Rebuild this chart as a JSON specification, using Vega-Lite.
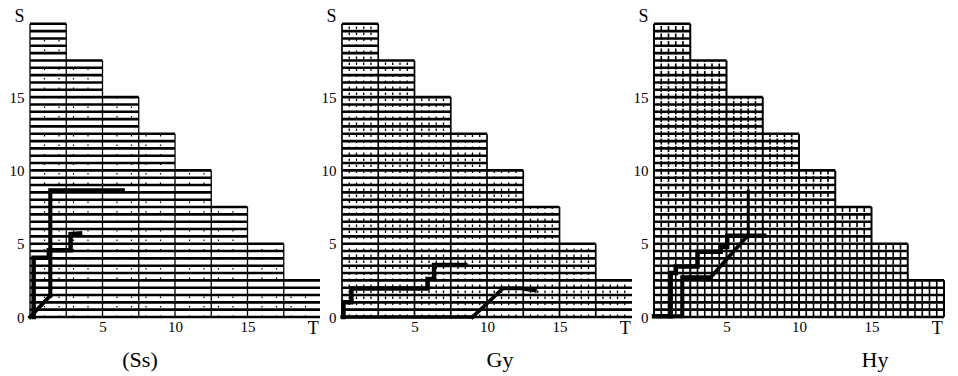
{
  "$schema": "https://vega.github.io/schema/vega-lite/v6.json",
  "background": "white",
  "padding": {"left": 9, "top": 7, "right": 5, "bottom": 2},
  "spacing": 22,
  "bounds": "flush",
  "config": {
    "view": {"stroke": null},
    "axis": {"labelFont": "Liberation Serif", "labelColor": "black", "domain": false, "ticks": false, "grid": false, "labelOverlap": false, "labelBound": false, "labelFlush": false},
    "title": {"font": "Liberation Serif", "fontSize": 22, "fontWeight": "normal", "color": "black"}
  },
  "datasets": {
    "h": [
      {"s": 0, "t": 0, "te": 20}, {"s": 0.5, "t": 0, "te": 20}, {"s": 1, "t": 0, "te": 20}, {"s": 1.5, "t": 0, "te": 20}, {"s": 2, "t": 0, "te": 20}, {"s": 2.5, "t": 0, "te": 20},
      {"s": 3, "t": 0, "te": 17.5}, {"s": 3.5, "t": 0, "te": 17.5}, {"s": 4, "t": 0, "te": 17.5}, {"s": 4.5, "t": 0, "te": 17.5}, {"s": 5, "t": 0, "te": 17.5},
      {"s": 5.5, "t": 0, "te": 15}, {"s": 6, "t": 0, "te": 15}, {"s": 6.5, "t": 0, "te": 15}, {"s": 7, "t": 0, "te": 15}, {"s": 7.5, "t": 0, "te": 15},
      {"s": 8, "t": 0, "te": 12.5}, {"s": 8.5, "t": 0, "te": 12.5}, {"s": 9, "t": 0, "te": 12.5}, {"s": 9.5, "t": 0, "te": 12.5}, {"s": 10, "t": 0, "te": 12.5},
      {"s": 10.5, "t": 0, "te": 10}, {"s": 11, "t": 0, "te": 10}, {"s": 11.5, "t": 0, "te": 10}, {"s": 12, "t": 0, "te": 10}, {"s": 12.5, "t": 0, "te": 10},
      {"s": 13, "t": 0, "te": 7.5}, {"s": 13.5, "t": 0, "te": 7.5}, {"s": 14, "t": 0, "te": 7.5}, {"s": 14.5, "t": 0, "te": 7.5}, {"s": 15, "t": 0, "te": 7.5},
      {"s": 15.5, "t": 0, "te": 5}, {"s": 16, "t": 0, "te": 5}, {"s": 16.5, "t": 0, "te": 5}, {"s": 17, "t": 0, "te": 5}, {"s": 17.5, "t": 0, "te": 5},
      {"s": 18, "t": 0, "te": 2.5}, {"s": 18.5, "t": 0, "te": 2.5}, {"s": 19, "t": 0, "te": 2.5}, {"s": 19.5, "t": 0, "te": 2.5}, {"s": 20, "t": 0, "te": 2.5}
    ],
    "vb": [
      {"t": 0, "s": 0, "top": 20}, {"t": 2.5, "s": 0, "top": 20}, {"t": 5, "s": 0, "top": 17.5}, {"t": 7.5, "s": 0, "top": 15}, {"t": 10, "s": 0, "top": 12.5},
      {"t": 12.5, "s": 0, "top": 10}, {"t": 15, "s": 0, "top": 7.5}, {"t": 17.5, "s": 0, "top": 5}, {"t": 20, "s": 0, "top": 2.5}
    ],
    "vg": [
      {"t": 0.5, "s": 0, "top": 20}, {"t": 1, "s": 0, "top": 20}, {"t": 1.5, "s": 0, "top": 20}, {"t": 2, "s": 0, "top": 20},
      {"t": 3, "s": 0, "top": 17.5}, {"t": 3.5, "s": 0, "top": 17.5}, {"t": 4, "s": 0, "top": 17.5}, {"t": 4.5, "s": 0, "top": 17.5},
      {"t": 5.5, "s": 0, "top": 15}, {"t": 6, "s": 0, "top": 15}, {"t": 6.5, "s": 0, "top": 15}, {"t": 7, "s": 0, "top": 15},
      {"t": 8, "s": 0, "top": 12.5}, {"t": 8.5, "s": 0, "top": 12.5}, {"t": 9, "s": 0, "top": 12.5}, {"t": 9.5, "s": 0, "top": 12.5},
      {"t": 10.5, "s": 0, "top": 10}, {"t": 11, "s": 0, "top": 10}, {"t": 11.5, "s": 0, "top": 10}, {"t": 12, "s": 0, "top": 10},
      {"t": 13, "s": 0, "top": 7.5}, {"t": 13.5, "s": 0, "top": 7.5}, {"t": 14, "s": 0, "top": 7.5}, {"t": 14.5, "s": 0, "top": 7.5},
      {"t": 15.5, "s": 0, "top": 5}, {"t": 16, "s": 0, "top": 5}, {"t": 16.5, "s": 0, "top": 5}, {"t": 17, "s": 0, "top": 5},
      {"t": 18, "s": 0, "top": 2.5}, {"t": 18.5, "s": 0, "top": 2.5}, {"t": 19, "s": 0, "top": 2.5}, {"t": 19.5, "s": 0, "top": 2.5}
    ],
    "p1": [
      {"path": "a", "i": 1, "t": 0.25, "s": 0}, {"path": "a", "i": 2, "t": 0.25, "s": 4.05}, {"path": "a", "i": 3, "t": 1.3, "s": 4.05},
      {"path": "a", "i": 4, "t": 1.3, "s": 4.55}, {"path": "a", "i": 5, "t": 2.8, "s": 4.55}, {"path": "a", "i": 6, "t": 2.8, "s": 5.65},
      {"path": "a", "i": 7, "t": 3.45, "s": 5.7},
      {"path": "b", "i": 1, "t": 1.4, "s": 1.45}, {"path": "b", "i": 2, "t": 1.4, "s": 8.65}, {"path": "b", "i": 3, "t": 6.4, "s": 8.65},
      {"path": "c", "i": 1, "t": 0, "s": 0}, {"path": "c", "i": 2, "t": 1.4, "s": 1.45}
    ],
    "p2": [
      {"path": "a", "i": 1, "t": 0.1, "s": 0}, {"path": "a", "i": 2, "t": 0.1, "s": 1.0}, {"path": "a", "i": 3, "t": 0.65, "s": 1.0},
      {"path": "a", "i": 4, "t": 0.65, "s": 1.95}, {"path": "a", "i": 5, "t": 5.9, "s": 1.95}, {"path": "a", "i": 6, "t": 5.9, "s": 2.6},
      {"path": "a", "i": 7, "t": 6.35, "s": 2.6}, {"path": "a", "i": 8, "t": 6.35, "s": 3.55}, {"path": "a", "i": 9, "t": 8.5, "s": 3.55},
      {"path": "d", "i": 1, "t": 0, "s": 0}, {"path": "d", "i": 2, "t": 9.0, "s": 0},
      {"path": "c", "i": 1, "t": 9.0, "s": 0}, {"path": "c", "i": 2, "t": 11.1, "s": 1.95}, {"path": "c", "i": 3, "t": 12.3, "s": 1.95},
      {"path": "c", "i": 4, "t": 13.3, "s": 1.8}
    ],
    "p3": [
      {"path": "a", "i": 1, "t": 0, "s": 0.05}, {"path": "a", "i": 2, "t": 1.15, "s": 0.05}, {"path": "a", "i": 3, "t": 1.15, "s": 3.0},
      {"path": "a", "i": 4, "t": 1.5, "s": 3.0}, {"path": "a", "i": 5, "t": 1.5, "s": 3.45}, {"path": "a", "i": 6, "t": 3.0, "s": 3.45},
      {"path": "a", "i": 7, "t": 3.0, "s": 4.45}, {"path": "a", "i": 8, "t": 4.6, "s": 4.45}, {"path": "a", "i": 9, "t": 4.6, "s": 4.8},
      {"path": "a", "i": 10, "t": 5.05, "s": 4.8}, {"path": "a", "i": 11, "t": 5.05, "s": 5.55}, {"path": "a", "i": 12, "t": 7.6, "s": 5.55},
      {"path": "b", "i": 1, "t": 1.15, "s": 0.05}, {"path": "b", "i": 2, "t": 1.95, "s": 0.05}, {"path": "b", "i": 3, "t": 1.95, "s": 2.7},
      {"path": "b", "i": 4, "t": 3.9, "s": 2.7},
      {"path": "c", "i": 1, "t": 3.9, "s": 2.7}, {"path": "c", "i": 2, "t": 6.5, "s": 5.6},
      {"path": "e", "i": 1, "t": 6.5, "s": 5.6}, {"path": "e", "i": 2, "t": 6.5, "s": 8.6}
    ]
  },
  "hconcat": [
    {
      "width": 290, "height": 302,
      "title": {"text": "(Ss)", "orient": "bottom", "anchor": "middle", "dx": -35, "offset": 13},
      "encoding": {
        "x": {"field": "t", "type": "quantitative", "scale": {"domain": [0, 20], "nice": false, "zero": false},
              "axis": {"title": null, "values": [5, 10, 15, 19.5], "labelExpr": "datum.value > 19 ? 'T' : datum.label", "labelPadding": 2,
                       "labelFontSize": {"condition": {"test": "datum.value > 19", "value": 18}, "value": 15}}},
        "y": {"field": "s", "type": "quantitative", "scale": {"domain": [0, 20.6], "nice": false, "zero": false},
              "axis": {"title": null, "values": [0, 5, 10, 15, 20.5], "labelExpr": "datum.value > 20 ? 'S' : datum.label", "labelPadding": 6,
                       "labelFontSize": {"condition": {"test": "datum.value > 20", "value": 18}, "value": 15}}}
      },
      "layer": [
        {"data": {"name": "h"}, "mark": {"type": "rule", "color": "black", "strokeWidth": 2.6}, "encoding": {"x2": {"field": "te"}}},
        {"data": {"name": "vb"}, "transform": [{"filter": "datum.t < 20"}], "mark": {"type": "rule", "color": "black", "strokeWidth": 1.3}, "encoding": {"y2": {"field": "top"}}},
        {"data": {"name": "vg"}, "transform": [{"filter": "datum.t % 1 == 0"}], "mark": {"type": "rule", "color": "black", "strokeWidth": 1.2, "strokeDash": [1.5, 8]}, "encoding": {"y2": {"field": "top"}}},
        {
          "data": {"name": "p1"},
          "mark": {"type": "line", "color": "black", "strokeJoin": "miter", "strokeCap": "square"},
          "encoding": {
            "detail": {"field": "path", "type": "nominal"},
            "order": {"field": "i", "type": "quantitative"},
            "strokeWidth": {"field": "path", "type": "nominal", "scale": {"domain": ["a", "b", "c", "d", "e"], "range": [4.5, 3, 1.5, 3.5, 3]}, "legend": null}
          }
        }
      ]
    },
    {
      "width": 290, "height": 302,
      "title": {"text": "Gy", "orient": "bottom", "anchor": "middle", "dx": 13, "offset": 13},
      "encoding": {
        "x": {"field": "t", "type": "quantitative", "scale": {"domain": [0, 20], "nice": false, "zero": false},
              "axis": {"title": null, "values": [5, 10, 15, 19.5], "labelExpr": "datum.value > 19 ? 'T' : datum.label", "labelPadding": 2,
                       "labelFontSize": {"condition": {"test": "datum.value > 19", "value": 18}, "value": 15}}},
        "y": {"field": "s", "type": "quantitative", "scale": {"domain": [0, 20.6], "nice": false, "zero": false},
              "axis": {"title": null, "values": [0, 5, 10, 15, 20.5], "labelExpr": "datum.value > 20 ? 'S' : datum.label", "labelPadding": 6,
                       "labelFontSize": {"condition": {"test": "datum.value > 20", "value": 18}, "value": 15}}}
      },
      "layer": [
        {"data": {"name": "h"}, "mark": {"type": "rule", "color": "black", "strokeWidth": 2.6}, "encoding": {"x2": {"field": "te"}}},
        {"data": {"name": "vb"}, "transform": [{"filter": "datum.t < 20"}], "mark": {"type": "rule", "color": "black", "strokeWidth": 1.7}, "encoding": {"y2": {"field": "top"}}},
        {"data": {"name": "vg"}, "mark": {"type": "rule", "color": "black", "strokeWidth": 1.3, "strokeDash": [2.5, 3.5]}, "encoding": {"y2": {"field": "top"}}},
        {
          "data": {"name": "p2"},
          "mark": {"type": "line", "color": "black", "strokeJoin": "miter", "strokeCap": "square"},
          "encoding": {
            "detail": {"field": "path", "type": "nominal"},
            "order": {"field": "i", "type": "quantitative"},
            "strokeWidth": {"field": "path", "type": "nominal", "scale": {"domain": ["a", "b", "c", "d", "e"], "range": [4.5, 3, 1.5, 3.5, 3]}, "legend": null}
          }
        }
      ]
    },
    {
      "width": 290, "height": 302,
      "title": {"text": "Hy", "orient": "bottom", "anchor": "middle", "dx": 76, "offset": 13},
      "encoding": {
        "x": {"field": "t", "type": "quantitative", "scale": {"domain": [0, 20], "nice": false, "zero": false},
              "axis": {"title": null, "values": [5, 10, 15, 19.5], "labelExpr": "datum.value > 19 ? 'T' : datum.label", "labelPadding": 2,
                       "labelFontSize": {"condition": {"test": "datum.value > 19", "value": 18}, "value": 15}}},
        "y": {"field": "s", "type": "quantitative", "scale": {"domain": [0, 20.6], "nice": false, "zero": false},
              "axis": {"title": null, "values": [0, 5, 10, 15, 20.5], "labelExpr": "datum.value > 20 ? 'S' : datum.label", "labelPadding": 6,
                       "labelFontSize": {"condition": {"test": "datum.value > 20", "value": 18}, "value": 15}}}
      },
      "layer": [
        {"data": {"name": "h"}, "mark": {"type": "rule", "color": "black", "strokeWidth": 2.6}, "encoding": {"x2": {"field": "te"}}},
        {"data": {"name": "vb"}, "mark": {"type": "rule", "color": "black", "strokeWidth": 2}, "encoding": {"y2": {"field": "top"}}},
        {"data": {"name": "vg"}, "mark": {"type": "rule", "color": "black", "strokeWidth": 1.6, "strokeDash": [6, 1.5]}, "encoding": {"y2": {"field": "top"}}},
        {
          "data": {"name": "p3"},
          "mark": {"type": "line", "color": "black", "strokeJoin": "miter", "strokeCap": "square"},
          "encoding": {
            "detail": {"field": "path", "type": "nominal"},
            "order": {"field": "i", "type": "quantitative"},
            "strokeWidth": {"field": "path", "type": "nominal", "scale": {"domain": ["a", "b", "c", "d", "e"], "range": [4.5, 3, 1.5, 3.5, 3]}, "legend": null}
          }
        }
      ]
    }
  ]
}
